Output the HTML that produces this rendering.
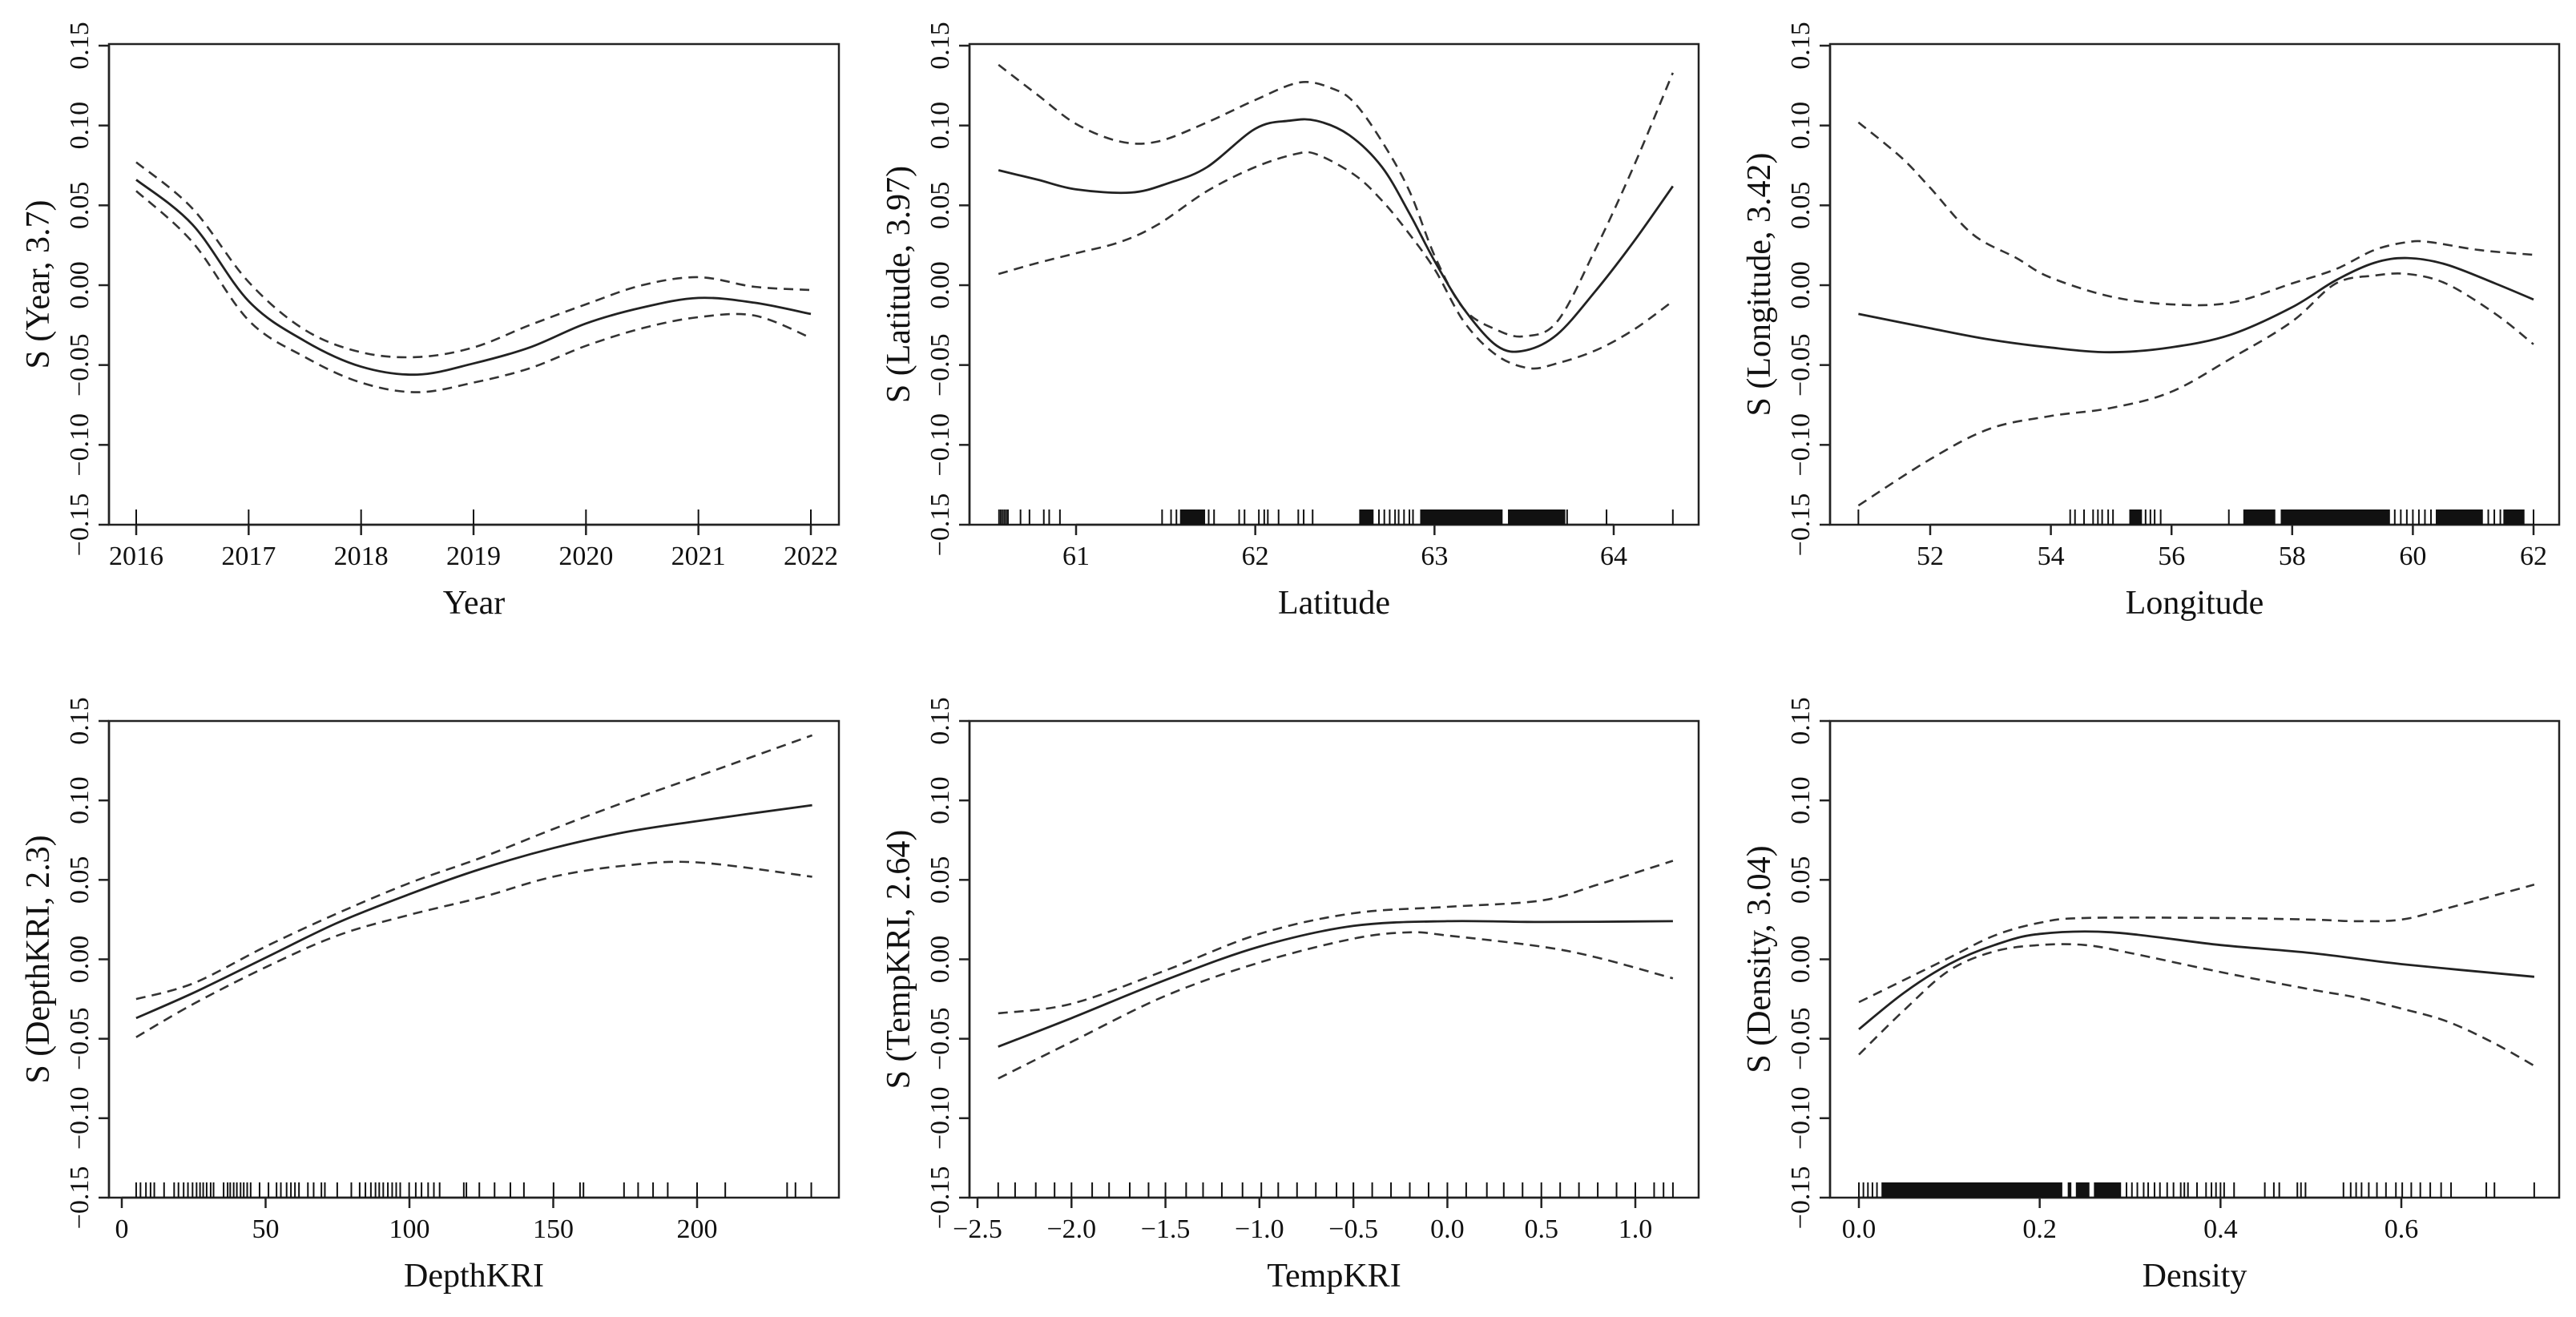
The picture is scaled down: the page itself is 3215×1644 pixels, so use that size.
<!DOCTYPE html>
<html><head><meta charset="utf-8"><style>
html,body{margin:0;padding:0;background:#fff;}
svg{display:block;}
text{font-family:"Liberation Serif","DejaVu Serif",serif;fill:#111;}
</style></head><body>
<svg id="fig" width="3215" height="1644" viewBox="0 0 3215 1644" xmlns="http://www.w3.org/2000/svg"></svg>
<script>
// ---------- Data ----------
const yTicks = [-0.15, -0.10, -0.05, 0.00, 0.05, 0.10, 0.15];
const yTickLabels = ["\u22120.15", "\u22120.10", "\u22120.05", "0.00", "0.05", "0.10", "0.15"];

// Year
const yearX = [2016, 2016.5, 2017, 2017.5, 2018, 2018.5, 2019, 2019.5, 2020, 2020.5, 2021, 2021.5, 2022];
const yearFit = [0.066, 0.038, -0.010, -0.035, -0.051, -0.056, -0.049, -0.039, -0.024, -0.014, -0.008, -0.011, -0.018];
const yearUpper = [0.077, 0.048, 0.002, -0.028, -0.042, -0.045, -0.039, -0.025, -0.012, 0.000, 0.005, -0.001, -0.003];
const yearLower = [0.059, 0.027, -0.022, -0.045, -0.061, -0.067, -0.061, -0.052, -0.038, -0.027, -0.020, -0.019, -0.033];
const yearRug = [2016, 2017, 2018, 2019, 2020, 2021, 2022];
const yearRugBands = [];
const yearXTicks = [2016, 2017, 2018, 2019, 2020, 2021, 2022];

// Latitude
const latX = [60.567, 60.787, 61.0, 61.305, 61.518, 61.732, 62.0, 62.189, 62.341, 62.524, 62.707, 62.86, 63.006, 63.165, 63.348, 63.5, 63.683, 63.896, 64.11, 64.33];
const latFit = [0.072, 0.066, 0.060, 0.058, 0.064, 0.074, 0.098, 0.103, 0.103, 0.094, 0.074, 0.045, 0.014, -0.015, -0.038, -0.041, -0.031, -0.004, 0.027, 0.062];
const latUX = [60.567, 60.787, 61.0, 61.244, 61.457, 61.732, 62.0, 62.25, 62.433, 62.555, 62.707, 62.86, 63.006, 63.165, 63.348, 63.5, 63.683, 63.896, 64.11, 64.33];
const latUpper = [0.138, 0.119, 0.101, 0.090, 0.090, 0.102, 0.116, 0.127, 0.123, 0.114, 0.090, 0.059, 0.017, -0.015, -0.028, -0.032, -0.023, 0.022, 0.074, 0.133];
const latLX = [60.567, 60.787, 61.0, 61.244, 61.457, 61.732, 62.0, 62.22, 62.341, 62.555, 62.707, 62.86, 63.006, 63.165, 63.348, 63.53, 63.683, 63.896, 64.11, 64.33];
const latLower = [0.007, 0.014, 0.020, 0.027, 0.038, 0.059, 0.074, 0.082, 0.082, 0.069, 0.053, 0.032, 0.009, -0.023, -0.044, -0.052, -0.049, -0.041, -0.028, -0.010];
const latRug = [60.57, 60.58, 60.59, 60.6, 60.61, 60.62, 60.69, 60.74, 60.82, 60.85, 60.91, 61.48, 61.53, 61.56, 61.74, 61.77, 61.91, 61.94, 62.02, 62.05, 62.07, 62.13, 62.24, 62.27, 62.32, 62.69, 62.72, 62.75, 62.78, 62.8, 62.83, 62.86, 62.88, 63.74, 63.96, 64.33];
const latRugBands = [[61.58, 61.72], [62.58, 62.66], [62.92, 63.38], [63.41, 63.73]];
const latXTicks = [61, 62, 63, 64];

// Longitude
const lonX = [50.81, 52.0, 52.98, 53.98, 54.98, 55.98, 56.98, 57.99, 58.72, 59.36, 59.91, 60.55, 61.37, 62.0];
const lonFit = [-0.018, -0.027, -0.034, -0.039, -0.042, -0.039, -0.031, -0.014, 0.003, 0.014, 0.017, 0.013, 0.001, -0.009];
const lonUX = [50.81, 51.52, 52.0, 52.7, 53.43, 53.98, 54.98, 55.98, 56.98, 57.99, 58.72, 59.36, 59.91, 60.28, 61.1, 62.0];
const lonUpper = [0.102, 0.080, 0.061, 0.032, 0.017, 0.005, -0.007, -0.012, -0.011, 0.001, 0.010, 0.022, 0.027, 0.027, 0.022, 0.019];
const lonLX = [50.81, 52.0, 52.98, 53.98, 54.98, 55.98, 56.98, 57.99, 58.72, 59.36, 59.91, 60.55, 61.37, 62.0];
const lonLower = [-0.138, -0.109, -0.090, -0.082, -0.077, -0.067, -0.046, -0.023, 0.001, 0.006, 0.007, 0.001, -0.018, -0.037];
const lonRug = [50.81, 54.32, 54.4, 54.55, 54.7, 54.78, 54.85, 54.95, 55.03, 55.57, 55.65, 55.72, 55.82, 56.95, 59.7, 59.8, 59.9, 60.0, 60.1, 60.2, 60.3, 61.25, 61.35, 61.45, 62.0];
const lonRugBands = [[55.3, 55.51], [57.19, 57.72], [57.81, 59.62], [60.38, 61.16], [61.5, 61.85]];
const lonXTicks = [52, 54, 56, 58, 60, 62];

// DepthKRI
const depX = [5, 25, 50, 75, 100, 125, 150, 175, 200, 240];
const depFit = [-0.037, -0.021, 0.001, 0.023, 0.041, 0.057, 0.070, 0.080, 0.087, 0.097];
const depUpper = [-0.025, -0.015, 0.008, 0.029, 0.048, 0.064, 0.082, 0.099, 0.115, 0.141];
const depLower = [-0.049, -0.028, -0.005, 0.015, 0.028, 0.039, 0.052, 0.059, 0.061, 0.052];
const depRug = [5, 6.5, 8.4, 10, 11.3, 14.7, 18.2, 19.7, 21.5, 23, 24.6, 26, 27.2, 28.3, 29.5, 30.9, 31.9, 35.4, 36.8, 37.7, 38.9, 40, 41.3, 42.4, 43.6, 44.8, 47.9, 51, 53.8, 55.3, 57.3, 58.8, 60.2, 61.6, 64.7, 66.7, 69.4, 70.6, 74.9, 79.8, 82.7, 84.7, 86.6, 88.2, 89.5, 90.9, 92.5, 94, 95.4, 96.8, 99.9, 102.2, 104.2, 106.5, 108.5, 110.5, 118.9, 119.8, 124.3, 129.6, 135.1, 139.8, 150.1, 159.3, 160.5, 174.6, 179.5, 184.7, 189.8, 200, 209.8, 231.3, 234.2, 239.7];
const depRugBands = [];
const depXTicks = [0, 50, 100, 150, 200];

// TempKRI
const tmpX = [-2.39, -2.0, -1.5, -1.0, -0.5, 0.0, 0.5, 1.2];
const tmpFit = [-0.055, -0.037, -0.013, 0.008, 0.021, 0.024, 0.0235, 0.024];
const tmpUX = [-2.39, -2.0, -1.5, -1.0, -0.5, 0.0, 0.5, 0.8, 1.2];
const tmpUpper = [-0.034, -0.028, -0.007, 0.016, 0.029, 0.033, 0.037, 0.047, 0.062];
const tmpLX = [-2.39, -2.0, -1.5, -1.0, -0.5, -0.2, 0.0, 0.5, 0.8, 1.2];
const tmpLower = [-0.075, -0.052, -0.023, -0.002, 0.013, 0.017, 0.015, 0.008, 0.001, -0.012];
const tmpRug = [-2.39, -2.3, -2.19, -2.09, -2.0, -1.89, -1.8, -1.69, -1.59, -1.5, -1.39, -1.3, -1.2, -1.09, -0.99, -0.9, -0.8, -0.7, -0.59, -0.5, -0.4, -0.3, -0.2, -0.1, 0.0, 0.1, 0.21, 0.3, 0.4, 0.5, 0.6, 0.7, 0.8, 0.9, 1.0, 1.1, 1.15, 1.2];
const tmpRugBands = [];
const tmpXTicks = [-2.5, -2.0, -1.5, -1.0, -0.5, 0.0, 0.5, 1.0];
const tmpXTickLabels = ["\u22122.5", "\u22122.0", "\u22121.5", "\u22121.0", "\u22120.5", "0.0", "0.5", "1.0"];

// Density
const denX = [0, 0.05, 0.1, 0.15, 0.2, 0.28, 0.4, 0.5, 0.6, 0.747];
const denFit = [-0.044, -0.021, -0.003, 0.009, 0.016, 0.017, 0.009, 0.004, -0.003, -0.011];
const denUX = [0, 0.05, 0.1, 0.15, 0.2, 0.25, 0.4, 0.5, 0.55, 0.6, 0.65, 0.747];
const denUpper = [-0.027, -0.013, 0.001, 0.015, 0.023, 0.026, 0.026, 0.025, 0.024, 0.025, 0.032, 0.047];
const denLX = [0, 0.05, 0.1, 0.15, 0.2, 0.25, 0.3, 0.4, 0.5, 0.55, 0.6, 0.65, 0.7, 0.747];
const denLower = [-0.060, -0.032, -0.007, 0.005, 0.009, 0.009, 0.004, -0.008, -0.019, -0.024, -0.031, -0.039, -0.052, -0.067];
const denRug = [0.0, 0.005, 0.01, 0.015, 0.02, 0.296, 0.302, 0.308, 0.315, 0.32, 0.327, 0.333, 0.341, 0.348, 0.356, 0.36, 0.364, 0.374, 0.384, 0.39, 0.395, 0.4, 0.404, 0.415, 0.449, 0.459, 0.465, 0.485, 0.489, 0.494, 0.536, 0.544, 0.55, 0.556, 0.564, 0.573, 0.583, 0.594, 0.601, 0.611, 0.621, 0.632, 0.644, 0.655, 0.694, 0.703, 0.747];
const denRugBands = [[0.025, 0.225], [0.231, 0.235], [0.24, 0.255], [0.26, 0.29]];
const denXTicks = [0.0, 0.2, 0.4, 0.6];

// ---------- Layout (pixel geometry, not data) ----------
const NS = "http://www.w3.org/2000/svg";
const svg = document.getElementById("fig");
function el(tag, attrs, parent) {
  const e = document.createElementNS(NS, tag);
  for (const k in attrs) e.setAttribute(k, attrs[k]);
  (parent || svg).appendChild(e);
  return e;
}
function pathD(xs, ys, sx, sy) {
  const p = xs.map((x, i) => [sx(x), sy(ys[i])]);
  let d = "M" + p[0][0].toFixed(1) + "," + p[0][1].toFixed(1);
  for (let i = 0; i < p.length - 1; i++) {
    const p0 = p[i - 1] || p[i], p1 = p[i], p2 = p[i + 1], p3 = p[i + 2] || p2;
    const c1x = p1[0] + (p2[0] - p0[0]) / 6, c1y = p1[1] + (p2[1] - p0[1]) / 6;
    const c2x = p2[0] - (p3[0] - p1[0]) / 6, c2y = p2[1] - (p3[1] - p1[1]) / 6;
    d += " C" + c1x.toFixed(1) + "," + c1y.toFixed(1) + " " + c2x.toFixed(1) + "," + c2y.toFixed(1) + " " + p2[0].toFixed(1) + "," + p2[1].toFixed(1);
  }
  return d;
}

const panels = [
  {key:"year", box:[136,55,1047,655], y15:57, ym15:655, xa:2016, pa:170, xb:2022, pb:1012,
   fx:yearX, fit:yearFit, ux:yearX, up:yearUpper, lx:yearX, lo:yearLower, rug:yearRug, bands:yearRugBands,
   ticks:yearXTicks, tlabels:null, ytitle:"S (Year, 3.7)", xtitle:"Year"},
  {key:"latitude", box:[1210,55,2120,655], y15:57, ym15:655, xa:61, pa:1343, xb:64, pb:2014,
   fx:latX, fit:latFit, ux:latUX, up:latUpper, lx:latLX, lo:latLower, rug:latRug, bands:latRugBands,
   ticks:latXTicks, tlabels:null, ytitle:"S (Latitude, 3.97)", xtitle:"Latitude"},
  {key:"longitude", box:[2284,55,3194,655], y15:57, ym15:655, xa:52, pa:2409, xb:62, pb:3162,
   fx:lonX, fit:lonFit, ux:lonUX, up:lonUpper, lx:lonLX, lo:lonLower, rug:lonRug, bands:lonRugBands,
   ticks:lonXTicks, tlabels:null, ytitle:"S (Longitude, 3.42)", xtitle:"Longitude"},
  {key:"depthkri", box:[136,900,1047,1495], y15:900, ym15:1495, xa:0, pa:152, xb:200, pb:870,
   fx:depX, fit:depFit, ux:depX, up:depUpper, lx:depX, lo:depLower, rug:depRug, bands:depRugBands,
   ticks:depXTicks, tlabels:null, ytitle:"S (DepthKRI, 2.3)", xtitle:"DepthKRI"},
  {key:"tempkri", box:[1210,900,2120,1495], y15:900, ym15:1495, xa:-2.5, pa:1220, xb:1.0, pb:2041,
   fx:tmpX, fit:tmpFit, ux:tmpUX, up:tmpUpper, lx:tmpLX, lo:tmpLower, rug:tmpRug, bands:tmpRugBands,
   ticks:tmpXTicks, tlabels:tmpXTickLabels, ytitle:"S (TempKRI, 2.64)", xtitle:"TempKRI"},
  {key:"density", box:[2284,900,3194,1495], y15:900, ym15:1495, xa:0, pa:2320, xb:0.6, pb:2997,
   fx:denX, fit:denFit, ux:denUX, up:denUpper, lx:denLX, lo:denLower, rug:denRug, bands:denRugBands,
   ticks:denXTicks, tlabels:null, ytitle:"S (Density, 3.04)", xtitle:"Density"}
];

panels.forEach(P => {
  const g = el("g", {});
  
  
  const [L, T, R, B] = P.box;
  const sx = v => P.pa + (v - P.xa) * (P.pb - P.pa) / (P.xb - P.xa);
  const sy = v => P.ym15 + (v + 0.15) * (P.y15 - P.ym15) / 0.30;

  // plot box
  const box = el("rect", {x:L, y:T, width:R-L, height:B-T, fill:"none", stroke:"#222", "stroke-width":2.5}, g);
  
  

  // y axis
  const ya = el("g", {}, g);
  
  
  el("line", {x1:L, x2:L, y1:sy(-0.15), y2:sy(0.15), stroke:"#222", "stroke-width":2.5}, ya);
  yTicks.forEach((v, i) => {
    const y = sy(v);
    el("line", {x1:L-13, x2:L, y1:y, y2:y, stroke:"#222", "stroke-width":2.5}, ya);
    const t = el("text", {x:0, y:0, "font-size":34, "text-anchor":"middle",
      transform:"translate(" + (L-26) + "," + y + ") rotate(-90)"}, ya);
    t.textContent = yTickLabels[i];
    
    
  });
  const yt = el("text", {x:0, y:0, "font-size":42, "text-anchor":"middle",
    transform:"translate(" + (L-75) + "," + ((T+B)/2) + ") rotate(-90)"}, g);
  yt.textContent = P.ytitle;
  
  

  // x axis
  const xa = el("g", {}, g);
  
  
  el("line", {x1:sx(P.ticks[0]), x2:sx(P.ticks[P.ticks.length-1]), y1:B, y2:B, stroke:"#222", "stroke-width":2.5}, xa);
  P.ticks.forEach((v, i) => {
    const x = sx(v);
    el("line", {x1:x, x2:x, y1:B, y2:B+13, stroke:"#222", "stroke-width":2.5}, xa);
    const t = el("text", {x:x, y:B+50, "font-size":34, "text-anchor":"middle"}, xa);
    t.textContent = P.tlabels ? P.tlabels[i] : String(v % 1 === 0 && P.key !== "density" ? v : v.toFixed(1));
    
    
  });
  const xt = el("text", {x:(L+R)/2, y:B+111, "font-size":42, "text-anchor":"middle"}, g);
  xt.textContent = P.xtitle;
  
  

  // rug
  const rg = el("g", {}, g);
  
  
  P.rug.forEach(v => {
    const x = sx(v);
    const ln = el("line", {x1:x, x2:x, y1:B-19, y2:B, stroke:"#111", "stroke-width":2}, rg);
    
    
  });
  P.bands.forEach(b => {
    const r = el("rect", {x:sx(b[0]), y:B-19, width:sx(b[1])-sx(b[0]), height:19, fill:"#111"}, rg);
    
    
  });

  // curves
  const up = el("path", {d:pathD(P.ux, P.up, sx, sy), fill:"none", stroke:"#333", "stroke-width":2.6, "stroke-dasharray":"12 8"}, g);
  
  
  const lo = el("path", {d:pathD(P.lx, P.lo, sx, sy), fill:"none", stroke:"#333", "stroke-width":2.6, "stroke-dasharray":"12 8"}, g);
  
  
  const fit = el("path", {d:pathD(P.fx, P.fit, sx, sy), fill:"none", stroke:"#222", "stroke-width":2.8}, g);
  
  
});
</script>
</body></html>
